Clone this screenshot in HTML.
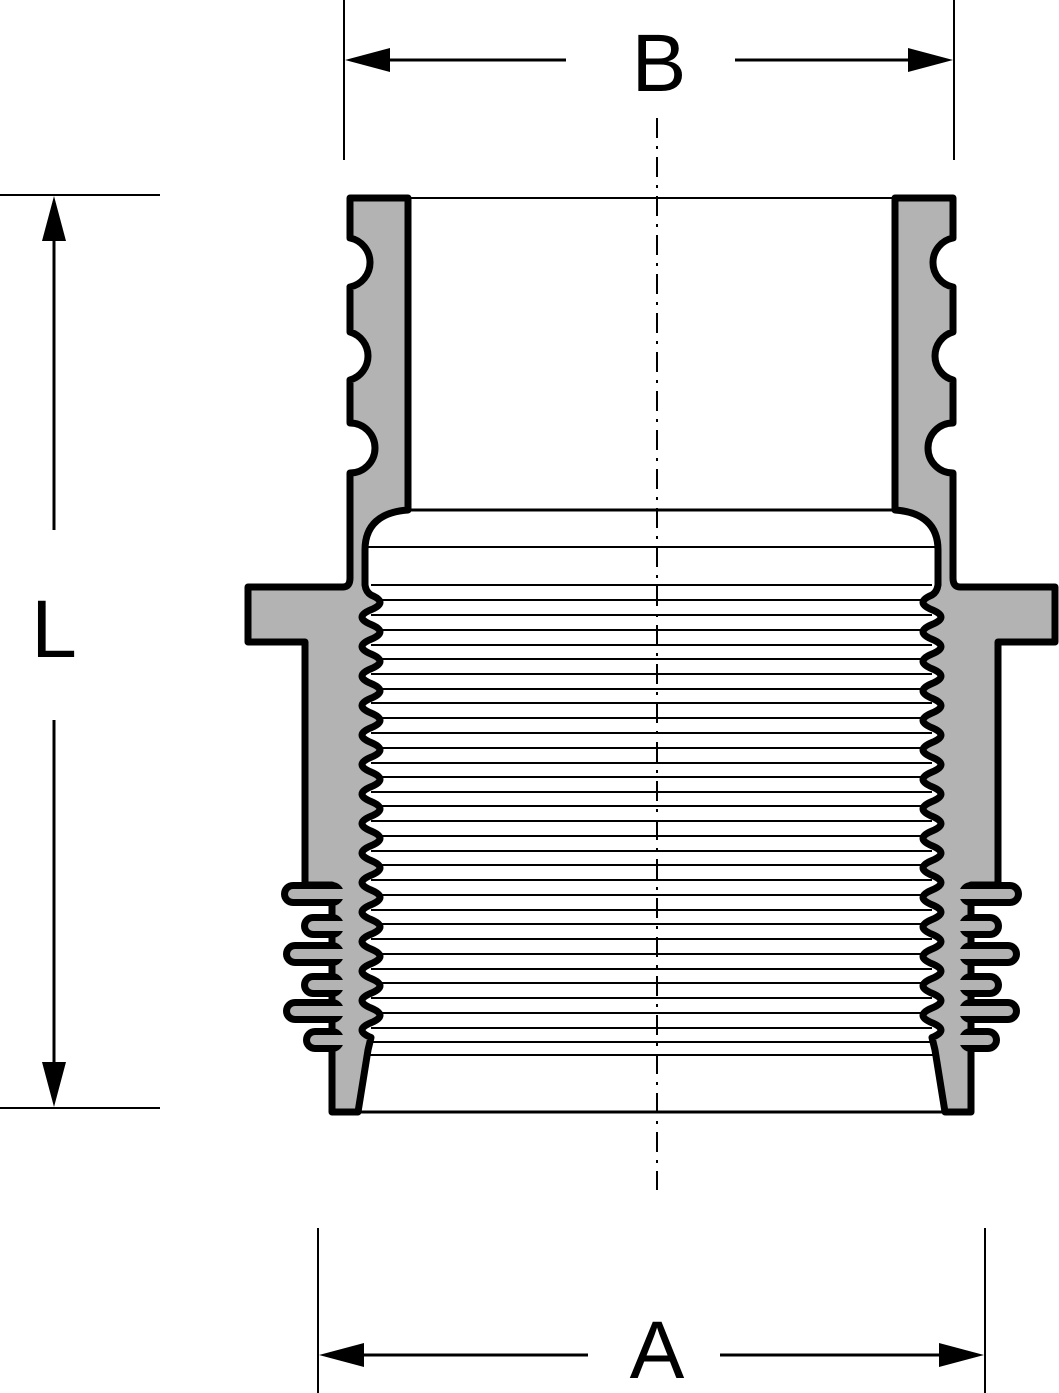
<!DOCTYPE html>
<html><head><meta charset="utf-8"><style>
html,body{margin:0;padding:0;background:#fff;}
svg{display:block;}
text{font-family:"Liberation Sans",sans-serif;}
</style></head><body>
<svg width="1059" height="1393" viewBox="0 0 1059 1393" xmlns="http://www.w3.org/2000/svg">
<defs>
<g id="half">
  <path d="M350,198 L408,198 L408,510 C380,512 365,525 365,550 L365,585 Q366,592 371,595
  q18,7.4 0,14.75 t0,14.75 t0,14.75 t0,14.75 t0,14.75 t0,14.75 t0,14.75 t0,14.75 t0,14.75 t0,14.75
  t0,14.75 t0,14.75 t0,14.75 t0,14.75 t0,14.75 t0,14.75 t0,14.75 t0,14.75 t0,14.75 t0,14.75
  t0,14.75 t0,14.75 t0,14.75 t0,14.75 t0,14.75 t0,14.75 t0,14.75 t0,14.75 t0,14.75 t0,14.75
  L368,1050 L358,1112 L332,1112 L332,885 L305,885 L305,642 L248,642 L248,587 L343,587 Q350,587 350,578
  L350,473 A25,25 0 0 0 350,423 L350,380 A25,25 0 0 0 350,332 L350,287 A25,25 0 0 0 350,238 Z"
  fill="#b3b3b3" stroke="#000" stroke-width="7" stroke-linejoin="round"/>
  <g stroke-linecap="round">
    <g stroke="#000" stroke-width="24">
      <line x1="293" y1="894" x2="332" y2="894"/>
      <line x1="313" y1="926" x2="332" y2="926"/>
      <line x1="295" y1="954" x2="332" y2="954"/>
      <line x1="313" y1="985" x2="332" y2="985"/>
      <line x1="295" y1="1011" x2="332" y2="1011"/>
      <line x1="315" y1="1040" x2="332" y2="1040"/>
    </g>
    <g stroke="#b3b3b3" stroke-width="10">
      <line x1="293" y1="894" x2="345" y2="894"/>
      <line x1="313" y1="926" x2="345" y2="926"/>
      <line x1="295" y1="954" x2="345" y2="954"/>
      <line x1="313" y1="985" x2="345" y2="985"/>
      <line x1="295" y1="1011" x2="345" y2="1011"/>
      <line x1="315" y1="1040" x2="345" y2="1040"/>
    </g>
  </g>
</g>
</defs>

<g stroke="#000" stroke-width="2">
  <line x1="408" y1="198" x2="895" y2="198"/>
  <line x1="405" y1="510" x2="898" y2="510" stroke-width="3"/>
  <line x1="368" y1="547" x2="935" y2="547"/>
  <line x1="371" y1="585" x2="932" y2="585"/>
  <line x1="371" y1="600" x2="932" y2="600"/>
  <line x1="371" y1="615" x2="932" y2="615"/>
  <line x1="371" y1="630" x2="932" y2="630"/>
  <line x1="371" y1="645" x2="932" y2="645"/>
  <line x1="371" y1="659" x2="932" y2="659"/>
  <line x1="371" y1="674" x2="932" y2="674"/>
  <line x1="371" y1="689" x2="932" y2="689"/>
  <line x1="371" y1="703" x2="932" y2="703"/>
  <line x1="371" y1="718" x2="932" y2="718"/>
  <line x1="371" y1="733" x2="932" y2="733"/>
  <line x1="371" y1="748" x2="932" y2="748"/>
  <line x1="371" y1="763" x2="932" y2="763"/>
  <line x1="371" y1="777" x2="932" y2="777"/>
  <line x1="371" y1="792" x2="932" y2="792"/>
  <line x1="371" y1="806" x2="932" y2="806"/>
  <line x1="371" y1="821" x2="932" y2="821"/>
  <line x1="371" y1="836" x2="932" y2="836"/>
  <line x1="371" y1="851" x2="932" y2="851"/>
  <line x1="371" y1="865" x2="932" y2="865"/>
  <line x1="371" y1="880" x2="932" y2="880"/>
  <line x1="371" y1="895" x2="932" y2="895"/>
  <line x1="371" y1="910" x2="932" y2="910"/>
  <line x1="371" y1="924" x2="932" y2="924"/>
  <line x1="371" y1="939" x2="932" y2="939"/>
  <line x1="371" y1="954" x2="932" y2="954"/>
  <line x1="371" y1="969" x2="932" y2="969"/>
  <line x1="371" y1="983" x2="932" y2="983"/>
  <line x1="371" y1="998" x2="932" y2="998"/>
  <line x1="371" y1="1013" x2="932" y2="1013"/>
  <line x1="371" y1="1028" x2="932" y2="1028"/>
  <line x1="371" y1="1042" x2="932" y2="1042"/>
  <line x1="368" y1="1055" x2="935" y2="1055"/>
  <line x1="358" y1="1112" x2="945" y2="1112" stroke-width="3"/>
</g>

<use href="#half"/>
<use href="#half" transform="matrix(-1 0 0 1 1303 0)"/>

<line x1="657" y1="118" x2="657" y2="1190" stroke="#000" stroke-width="2" stroke-dasharray="20 8 3 8"/>

<g stroke="#000" stroke-width="2">
  <line x1="344" y1="0" x2="344" y2="160"/>
  <line x1="954" y1="0" x2="954" y2="160"/>
  <line x1="380" y1="60" x2="566" y2="60" stroke-width="3"/>
  <line x1="735" y1="60" x2="918" y2="60" stroke-width="3"/>
  <line x1="318" y1="1228" x2="318" y2="1393"/>
  <line x1="985" y1="1228" x2="985" y2="1393"/>
  <line x1="355" y1="1355" x2="588" y2="1355" stroke-width="3"/>
  <line x1="720" y1="1355" x2="950" y2="1355" stroke-width="3"/>
  <line x1="0" y1="195" x2="160" y2="195"/>
  <line x1="0" y1="1108" x2="160" y2="1108"/>
  <line x1="54" y1="230" x2="54" y2="530" stroke-width="3"/>
  <line x1="54" y1="720" x2="54" y2="1075" stroke-width="3"/>
</g>
<g fill="#000">
  <polygon points="345,60 390,48 390,72"/>
  <polygon points="953,60 908,48 908,72"/>
  <polygon points="319,1355 364,1343 364,1367"/>
  <polygon points="984,1355 939,1343 939,1367"/>
  <polygon points="54,196 42,241 66,241"/>
  <polygon points="54,1107 42,1062 66,1062"/>
</g>
<text x="659" y="91" font-size="82" text-anchor="middle">B</text>
<text x="657" y="1378" font-size="82" text-anchor="middle">A</text>
<text x="54" y="657" font-size="82" text-anchor="middle">L</text>
</svg>
</body></html>
